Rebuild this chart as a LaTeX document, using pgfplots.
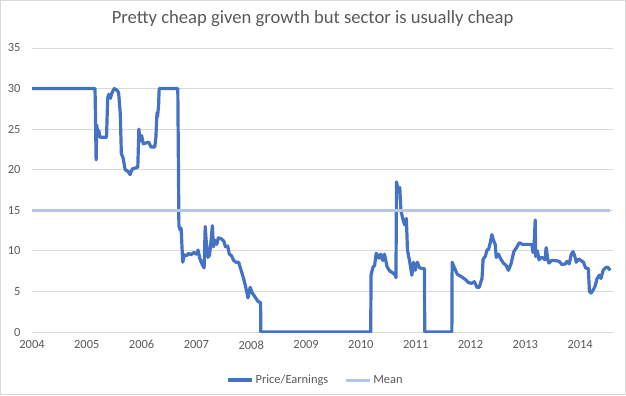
\documentclass[border=0pt]{standalone}
\usepackage{pgfplots}
\pgfplotsset{compat=1.18}
\usepackage{fontspec}
\setmainfont{Carlito}
\definecolor{pe}{HTML}{4472C4}
\definecolor{meanc}{HTML}{B4C7E7}
\definecolor{txt}{HTML}{595959}
\definecolor{gridc}{HTML}{D9D9D9}
\begin{document}
\begin{tikzpicture}[x=1bp,y=1bp]
\draw[gridc,line width=0.8bp] (0.4,0.4) rectangle (625.6,394.6);
\begin{axis}[
  scale only axis,
  width=581bp, height=284bp,
  at={(32bp,63bp)}, anchor=south west,
  xmin=2004, xmax=2014.6,
  ymin=0, ymax=35,
  xtick={2004,2005,...,2014},
  ytick={0,5,...,35},
  /pgf/number format/assume math mode=true,
  /pgf/number format/1000 sep={},
  ticklabel style={font=\fontsize{12.5}{14}\selectfont, text=txt},
  xticklabel style={yshift=-5bp},
  yticklabel style={xshift=-8bp},
  major tick length=0pt,
  axis line style={draw=none},
  ymajorgrids,
  grid style={gridc, line width=0.8bp},
  title={Pretty cheap given growth but sector is usually cheap},
  title style={font=\fontsize{18.7}{21}\selectfont, text=txt, at={(axis description cs:0.483,1)}, anchor=center, yshift=23bp},
  legend columns=2,
  legend style={draw=none, fill=none, at={(axis description cs:0.488,-0.169)}, anchor=center,
    font=\fontsize{12.5}{14}\selectfont, text=txt, /tikz/every even column/.append style={column sep=14bp}},
  legend image code/.code={\draw[#1] (0bp,0bp) -- (24bp,0bp);},
]
\addplot[pe, line width=3.2bp, line join=round] coordinates {
(2004.00,30) (2005.15,30) (2005.17,21.2) (2005.18,25.5) (2005.20,24.5) (2005.22,24.8) (2005.24,24) (2005.30,24) (2005.36,24)
(2005.38,28.8) (2005.40,29.3) (2005.43,28.8) (2005.46,29.5) (2005.50,30) (2005.55,29.8) (2005.58,29.5) (2005.61,27)
(2005.63,22) (2005.66,21.5) (2005.70,20) (2005.75,19.8) (2005.79,19.4) (2005.83,20.1) (2005.88,20.2) (2005.93,20.3)
(2005.95,25) (2005.97,23.5) (2006.00,24.2) (2006.03,23.2) (2006.08,23.3) (2006.13,23.4) (2006.17,22.8) (2006.24,22.8)
(2006.26,24) (2006.28,27) (2006.29,26.5) (2006.31,28) (2006.32,30) (2006.66,30) (2006.68,13.1) (2006.70,12.6) (2006.72,12.8)
(2006.75,8.6) (2006.78,9.5) (2006.82,9.4) (2006.86,9.7) (2006.90,9.5) (2006.95,9.8) (2007.00,9.6) (2007.03,10.1) (2007.06,9.1)
(2007.10,8.4) (2007.14,7.9) (2007.16,13.0) (2007.18,11) (2007.21,9.2) (2007.24,9.5) (2007.27,11.5) (2007.29,13.1) (2007.31,10.5)
(2007.34,11.3) (2007.37,10.8) (2007.40,11.6) (2007.45,11.5) (2007.50,11.2) (2007.53,10.5) (2007.57,10.6) (2007.60,9.6)
(2007.64,9.4) (2007.68,8.8) (2007.72,8.6) (2007.77,8.6) (2007.82,7.5) (2007.86,6.6) (2007.90,5.5) (2007.94,4.2) (2007.98,5.5)
(2008.02,4.8) (2008.07,4.3) (2008.12,3.8) (2008.17,3.6) (2008.175,0) (2010.18,0) (2010.185,7.0) (2010.22,8.0) (2010.25,8.2)
(2010.28,9.7) (2010.33,9.1) (2010.36,9.6) (2010.40,8.8) (2010.43,9.6) (2010.48,8.0) (2010.53,7.5) (2010.58,7.3) (2010.63,7.0)
(2010.64,6.7) (2010.65,18.5) (2010.68,17.5) (2010.71,17.8) (2010.73,15) (2010.77,13.8) (2010.80,13.2) (2010.83,14)
(2010.85,10.1) (2010.89,8.7) (2010.93,7.0) (2010.96,8.6) (2010.99,7.6) (2011.03,8.6) (2011.07,7.9) (2011.16,7.8) (2011.165,0)
(2011.66,0) (2011.665,8.6) (2011.70,8.0) (2011.76,7.1) (2011.84,6.8) (2011.90,6.5) (2011.96,6.1) (2012.02,6.0) (2012.07,6.2)
(2012.12,5.5) (2012.16,5.5) (2012.19,6.2) (2012.21,6.6) (2012.23,9.0) (2012.27,9.3) (2012.30,10.1) (2012.33,10.2) (2012.36,11)
(2012.39,12) (2012.42,11.3) (2012.45,10.8) (2012.47,9.2) (2012.51,9.6) (2012.55,9.0) (2012.60,8.5) (2012.65,8.2) (2012.69,7.6)
(2012.74,8.4) (2012.79,9.9) (2012.84,10.4) (2012.89,11.0) (2012.95,10.8) (2013.05,10.8) (2013.12,10.8) (2013.14,9.8)
(2013.16,10.6) (2013.18,13.8) (2013.19,9.3) (2013.22,10) (2013.25,8.9) (2013.29,9.2) (2013.33,9.1) (2013.36,8.9) (2013.38,10.4)
(2013.41,9.0) (2013.43,8.5) (2013.48,8.8) (2013.55,8.8) (2013.62,8.7) (2013.67,8.3) (2013.73,8.4) (2013.76,8.7) (2013.80,8.4)
(2013.84,9.6) (2013.87,9.9) (2013.90,9.4) (2013.93,8.6) (2013.97,9.0) (2014.02,8.8) (2014.06,8.6) (2014.10,7.9) (2014.15,7.8)
(2014.17,5.0) (2014.20,4.8) (2014.24,5.2) (2014.27,5.6) (2014.31,6.6) (2014.35,7.0) (2014.38,6.6) (2014.42,7.6) (2014.46,7.9)
(2014.50,8.0) (2014.55,7.6)
};
\addlegendentry{Price/Earnings}
\addplot[meanc, line width=3bp] coordinates {(2004.00,15) (2014.55,15)};
\addlegendentry{Mean}
\end{axis}
\end{tikzpicture}
\end{document}
